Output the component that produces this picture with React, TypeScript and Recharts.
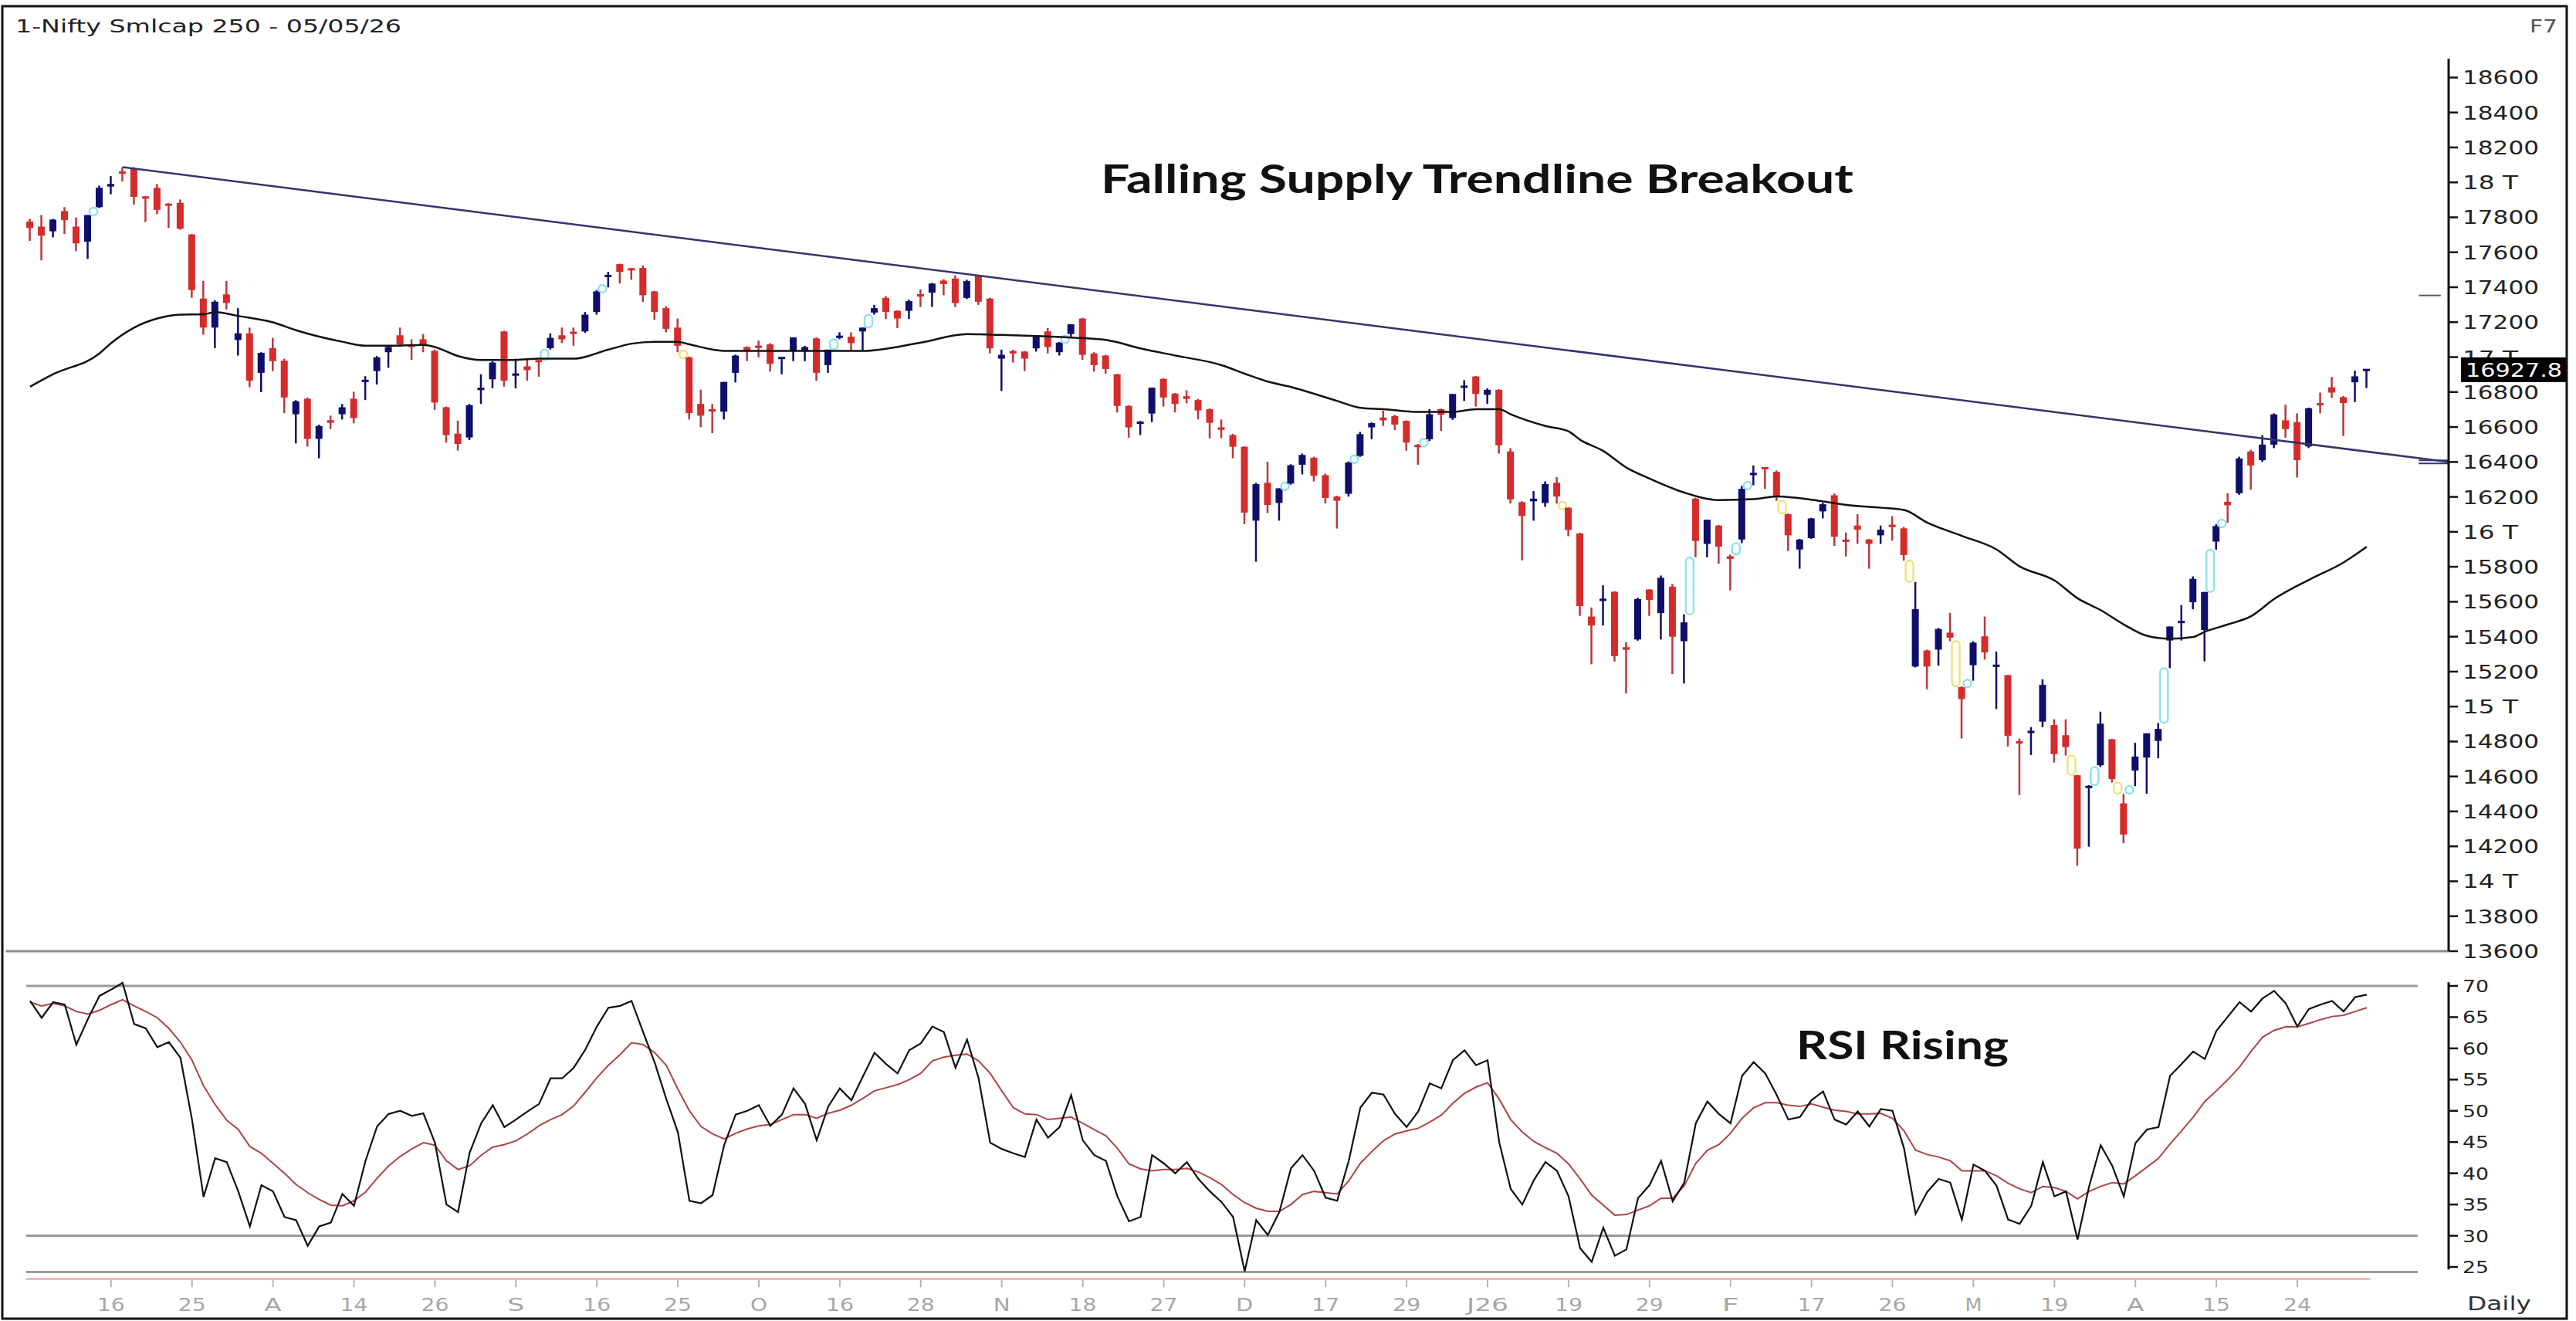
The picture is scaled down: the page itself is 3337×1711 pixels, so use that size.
import React from 'react';
import { ComposedChart, Bar, Line, XAxis, YAxis, ReferenceLine } from 'recharts';

const W = 3337;
const H = 1711;
const X_MIN = -0.33;
const X_MAX = 209.08;
const PLOT_LEFT = 34;
const AXIS_W = 165;
const AXIS_FONT = 'DejaVu Sans, sans-serif';

// daily candles, 07 Jul 2025 .. 05 May 2026 (index = session number)
const opens = [
  17776, 17747, 17720, 17836, 17747, 17661, 17858, 17976, 18061, 18080,
  17917, 17969, 17877, 17883, 17702, 17335, 17169, 17359, 17098, 17136,
  16910, 17051, 16980, 16673, 16762, 16532, 16639, 16673, 16762, 16858,
  16920, 17028, 17125, 17073, 17102, 17036, 16713, 16562, 16540, 16811,
  16873, 17147, 16895, 16947, 16980, 17051, 17125, 17142, 17147, 17258,
  17461, 17532, 17507, 17510, 17376, 17280, 17169, 16999, 16732, 16702,
  16688, 16910, 17058, 17065, 17073, 16991, 17036, 17036, 17107, 16954,
  17113, 17117, 17147, 17255, 17339, 17265, 17265, 17361, 17369, 17438,
  17450, 17339, 17465, 17335, 16991, 17035, 17032, 17050, 17147, 17028,
  17132, 17221, 17021, 17009, 16902, 16721, 16621, 16677, 16875, 16791,
  16776, 16754, 16702, 16598, 16554, 16487, 16064, 16281, 16165, 16276,
  16384, 16424, 16324, 16202, 16218, 16435, 16598, 16654, 16662, 16635,
  16495, 16530, 16702, 16651, 16825, 16889, 16784, 16813, 16460, 16170,
  16175, 16165, 16281, 16138, 15991, 15515, 15607, 15657, 15340, 15384,
  15670, 15535, 15686, 15374, 16190, 15931, 16036, 15860, 15956, 16327,
  16368, 16343, 16101, 15899, 15964, 16117, 16209, 15953, 16036, 15956,
  15980, 16040, 16020, 15229, 15321, 15326, 15423, 15111, 15237, 15402,
  15230, 15180, 14800, 14850, 14914, 14894, 14836, 14607, 14535, 14664,
  14813, 14446, 14634, 14708, 14803, 15378, 15480, 15597, 15438, 15944,
  16172, 16221, 16460, 16410, 16499, 16638, 16628, 16489, 16735, 16827,
  16771, 16856, 16925,
];
const highs = [
  17791, 17813, 17791, 17858, 17799, 17813, 17981, 18036, 18087, 18087,
  17922, 17991, 17880, 17902, 17705, 17436, 17325, 17436, 17280, 17169,
  17028, 17110, 16991, 16754, 16769, 16613, 16665, 16732, 16802, 16891,
  17006, 17065, 17169, 17102, 17132, 17043, 16717, 16636, 16732, 16902,
  16977, 17151, 16991, 16991, 16982, 17136, 17169, 17169, 17258, 17384,
  17488, 17535, 17510, 17525, 17379, 17291, 17221, 17003, 16814, 16732,
  16858, 17014, 17062, 17095, 17080, 16999, 17113, 17065, 17113, 17043,
  17142, 17142, 17169, 17299, 17349, 17268, 17329, 17388, 17425, 17446,
  17468, 17443, 17468, 17339, 17043, 17043, 17035, 17117, 17166, 17087,
  17188, 17225, 17028, 17013, 16905, 16724, 16635, 16825, 16880, 16795,
  16810, 16761, 16707, 16643, 16561, 16490, 16281, 16400, 16249, 16387,
  16448, 16430, 16333, 16206, 16403, 16572, 16626, 16694, 16670, 16638,
  16503, 16702, 16705, 16789, 16868, 16892, 16821, 16816, 16479, 16175,
  16233, 16289, 16313, 16140, 15995, 15567, 15694, 15660, 15369, 15623,
  15672, 15750, 15702, 15528, 16195, 16069, 16040, 15870, 16263, 16380,
  16370, 16351, 16105, 15960, 16080, 16166, 16219, 15996, 16101, 15960,
  16036, 16090, 16028, 15713, 15326, 15450, 15536, 15116, 15374, 15515,
  15315, 15182, 14817, 14882, 15156, 14927, 14927, 14609, 14550, 14971,
  14815, 14501, 14793, 14847, 14906, 15458, 15581, 15745, 15656, 16043,
  16221, 16430, 16469, 16553, 16678, 16727, 16678, 16711, 16797, 16886,
  16777, 16922, 16930,
];
const lows = [
  17665, 17554, 17685, 17705, 17606, 17562, 17853, 17932, 18006, 17873,
  17773, 17818, 17739, 17729, 17339, 17128, 17051, 17273, 17009, 16828,
  16799, 16920, 16680, 16506, 16488, 16421, 16588, 16643, 16621, 16754,
  16843, 16939, 17058, 16984, 17028, 16698, 16510, 16465, 16525, 16732,
  16821, 16831, 16821, 16865, 16888, 17043, 17080, 17065, 17139, 17243,
  17399, 17421, 17443, 17317, 17214, 17142, 17028, 16643, 16599, 16565,
  16643, 16855, 16977, 16999, 16917, 16902, 16977, 16977, 16865, 16910,
  17102, 17038, 17035, 17243, 17218, 17166, 17218, 17287, 17287, 17354,
  17287, 17332, 17299, 17021, 16806, 16969, 16920, 17032, 17021, 17009,
  17117, 16984, 16917, 16905, 16683, 16539, 16554, 16628, 16717, 16683,
  16736, 16643, 16535, 16535, 16421, 16043, 15829, 16107, 16064, 16270,
  16329, 16289, 16162, 16019, 16202, 16429, 16530, 16606, 16583, 16464,
  16384, 16519, 16578, 16641, 16749, 16717, 16733, 16448, 16162, 15837,
  16064, 16143, 16162, 15975, 15519, 15242, 15464, 15258, 15075, 15377,
  15519, 15384, 15186, 15132, 15854, 15854, 15818, 15665, 15935, 16267,
  16246, 16177, 15891, 15789, 15960, 16077, 15919, 15859, 15931, 15789,
  15931, 15950, 15835, 15224, 15099, 15234, 15374, 14817, 15148, 15269,
  14986, 14772, 14494, 14723, 14882, 14680, 14720, 14090, 14198, 14654,
  14565, 14218, 14545, 14501, 14704, 15220, 15378, 15557, 15259, 15898,
  16052, 16212, 16241, 16400, 16479, 16539, 16311, 16479, 16678, 16767,
  16549, 16743, 16823,
];
const closes = [
  17739, 17695, 17787, 17784, 17651, 17813, 17969, 17991, 18052, 17917,
  17910, 17843, 17868, 17735, 17384, 17169, 17317, 17310, 17136, 16865,
  17024, 16977, 16769, 16747, 16532, 16606, 16624, 16713, 16651, 16870,
  16999, 17058, 17073, 17058, 17073, 16740, 16554, 16503, 16725, 16825,
  16969, 16865, 16905, 16925, 16974, 17110, 17102, 17136, 17243, 17376,
  17468, 17488, 17498, 17354, 17258, 17162, 17065, 16680, 16665, 16688,
  16858, 17009, 17036, 17054, 16962, 16999, 17113, 17058, 16910, 17043,
  17120, 17080, 17169, 17280, 17258, 17221, 17320, 17346, 17421, 17418,
  17309, 17435, 17317, 17050, 17013, 17021, 16991, 17117, 17058, 17083,
  17188, 17013, 16954, 16932, 16721, 16598, 16628, 16825, 16769, 16732,
  16761, 16695, 16624, 16584, 16487, 16110, 16273, 16154, 16249, 16381,
  16440, 16321, 16194, 16178, 16397, 16559, 16622, 16638, 16614, 16511,
  16487, 16673, 16670, 16789, 16836, 16789, 16813, 16495, 16186, 16091,
  16190, 16273, 16202, 16011, 15575, 15464, 15615, 15289, 15325, 15615,
  15610, 15737, 15400, 15482, 15948, 16069, 15915, 15845, 16246, 16335,
  16360, 16203, 15980, 15956, 16077, 16158, 15972, 15945, 16012, 15931,
  16012, 16028, 15867, 15557, 15229, 15444, 15395, 15043, 15366, 15310,
  15237, 14833, 14790, 14860, 15124, 14728, 14768, 14187, 14545, 14902,
  14585, 14267, 14714, 14847, 14872, 15458, 15488, 15731, 15656, 16033,
  16152, 16420, 16380, 16499, 16672, 16588, 16410, 16707, 16725, 16797,
  16737, 16890, 16927.8,
];

// moving average, read at the sessions where it could be measured
const maIdx = [
  0, 2, 6, 7, 9, 11, 13, 15, 16, 18, 21, 23, 27, 29, 31, 34, 35, 37, 39, 42,
  44, 47, 50, 52, 54, 56, 57, 60, 62, 66, 70, 72, 77, 81, 84, 87, 90, 93, 96, 99,
  103, 105, 107, 109, 113, 115, 117, 120, 123, 125, 127, 128, 131, 133, 134, 136, 138, 140, 143, 146,
  149, 151, 155, 157, 160, 162, 164, 167, 170, 172, 175, 177, 179, 181, 183, 185, 187, 188, 190, 192,
  194, 197, 200, 202,
];
const maVals = [
  16831, 16902, 17021, 17080, 17169, 17221, 17243, 17245, 17258, 17236, 17199, 17154, 17088, 17065, 17065, 17070, 17058, 17006, 16984, 16984,
  16991, 16991, 17043, 17077, 17088, 17088, 17073, 17036, 17036, 17036, 17035, 17035, 17083, 17132, 17127, 17121, 17112, 17098, 17050, 17009,
  16954, 16905, 16860, 16829, 16749, 16710, 16702, 16686, 16686, 16702, 16702, 16673, 16606, 16575, 16527, 16463, 16368, 16305, 16225, 16182,
  16187, 16203, 16174, 16154, 16138, 16125, 16053, 15977, 15899, 15802, 15722, 15620, 15552, 15470, 15405, 15388, 15398, 15428, 15470, 15517,
  15616, 15725, 15825, 15914,
];

// falling supply trendline: from the July top to the price axis
const trendIdx = [8, X_MAX];
const trendVals = [18087, 16400];

// price gaps (session index of the candle after the gap)
const gapUp = [6, 45, 50, 70, 73, 90, 109, 115, 121, 144, 148, 149, 168, 179, 182, 185, 189, 190];
const gapDown = [57, 133, 152, 163, 167, 177, 181];

const rsi = [
  67.6, 64.9, 67.4, 67.0, 60.6, 64.7, 68.4, 69.4, 70.5, 63.9,
  63.2, 60.2, 61.0, 58.5, 48.6, 36.2, 42.4, 41.8, 37.1, 31.5,
  38.1, 37.1, 33.0, 32.5, 28.4, 31.5, 32.1, 36.7, 34.8, 42.0,
  47.5, 49.5, 50.0, 49.2, 49.6, 44.9, 35.0, 33.8, 43.3, 48.0,
  50.9, 47.4, 48.6, 49.9, 51.1, 55.2, 55.2, 56.9, 59.8, 63.5,
  66.5, 66.8, 67.6, 62.6, 57.7, 51.9, 46.6, 35.6, 35.2, 36.5,
  44.5, 49.4, 50.0, 50.9, 47.6, 49.4, 53.6, 51.1, 45.3, 50.7,
  53.6, 51.7, 55.5, 59.3, 57.5, 56.0, 59.7, 60.8, 63.5, 62.6,
  56.9, 61.4, 55.2, 44.9, 43.9, 43.2, 42.6, 48.6, 45.7, 47.4,
  52.5, 45.3, 42.9, 42.0, 36.3, 32.3, 33.0, 42.9, 41.6, 40.0,
  41.8, 39.1, 37.1, 35.4, 33.0, 24.3, 32.5, 30.1, 33.8, 40.8,
  42.9, 40.4, 36.1, 35.6, 42.0, 50.5, 52.9, 52.6, 49.5, 47.4,
  49.9, 54.4, 53.6, 58.1, 59.7, 57.3, 58.1, 45.0, 37.5, 35.0,
  38.9, 41.8, 40.4, 36.3, 28.0, 25.8, 31.3, 26.8, 27.8, 36.0,
  38.1, 42.0, 35.5, 38.5, 48.0, 51.5, 49.5, 48.0, 55.6, 57.8,
  56.0, 52.5, 48.6, 49.0, 51.7, 53.1, 48.6, 47.8, 49.9, 47.5,
  50.3, 50.0, 44.0, 33.5, 37.0, 39.1, 38.5, 32.6, 41.4, 40.4,
  38.0, 32.6, 31.9, 34.8, 41.8, 36.3, 37.1, 29.4, 37.9, 44.5,
  41.2, 36.3, 44.8, 47.0, 47.4, 55.6, 57.5, 59.5, 58.3, 62.8,
  65.1, 67.4, 65.9, 68.0, 69.2, 67.2, 63.5, 66.3, 67.0, 67.6,
  65.9, 68.2, 68.6,
];
const rsiAvg = [
  67.4, 66.8, 67.2, 66.8, 65.9, 65.5, 66.1, 67.0, 67.8, 66.8,
  65.9, 64.9, 63.2, 61.0, 58.1, 54.0, 51.0, 48.5, 47.0, 44.3,
  43.2, 41.6, 40.0, 38.2, 36.9, 35.8, 34.9, 34.8, 35.6, 37.0,
  39.2, 41.2, 42.7, 43.9, 44.9, 44.5, 42.0, 40.6, 41.2, 42.9,
  44.2, 44.6, 45.2, 46.3, 47.6, 48.6, 49.4, 50.8, 53.0, 55.3,
  57.3, 59.0, 60.9, 60.6, 59.3, 57.3, 53.5, 50.0, 47.5, 46.3,
  45.5, 46.4, 47.1, 47.6, 47.8, 48.6, 49.4, 49.4, 48.8, 49.6,
  50.1, 50.9, 52.0, 53.2, 53.7, 54.2, 55.0, 56.0, 58.0, 58.6,
  58.9, 59.1, 58.0, 56.0, 53.2, 50.5, 49.5, 49.4, 48.6, 48.8,
  49.0, 48.0, 47.0, 46.0, 44.0, 41.5, 40.7, 40.4, 40.6, 40.6,
  40.8, 40.2, 39.3, 38.2, 36.6, 35.3, 34.4, 33.9, 33.9, 35.0,
  36.6, 37.1, 36.9, 36.7, 38.8, 41.6, 43.5, 45.2, 46.3, 46.8,
  47.2, 48.2, 49.3, 51.2, 52.8, 53.8, 54.5, 51.9, 48.6, 46.6,
  45.1, 44.1, 43.2, 41.5, 39.1, 36.5, 34.9, 33.3, 33.4, 34.1,
  34.8, 36.0, 36.0, 38.0, 41.6, 43.7, 44.6, 46.4, 48.8, 50.5,
  51.3, 51.3, 50.9, 50.7, 51.1, 50.6, 50.1, 49.9, 49.5, 49.5,
  49.6, 48.8, 46.8, 43.7, 43.0, 42.6, 42.0, 40.4, 40.4, 40.4,
  39.6, 38.4, 37.5, 36.9, 37.9, 37.7, 37.1, 35.9, 37.1, 37.9,
  38.5, 38.3, 39.6, 41.0, 42.4, 44.7, 46.8, 49.0, 51.5, 53.2,
  55.0, 57.0, 59.5, 61.8, 62.9, 63.45, 63.45, 64.0, 64.6, 65.1,
  65.3, 65.9, 66.5,
];

const tickIdx = [7, 14, 21, 28, 35, 42, 49, 56, 63, 70, 77, 84, 91, 98, 105, 112, 119, 126, 133, 140, 147, 154, 161, 168, 175, 182, 189, 196];
const tickLabels = ['16', '25', 'A', '14', '26', 'S', '16', '25', 'O', '16', '28', 'N', '18', '27', 'D', '17', '29', 'J26', '19', '29', 'F', '17', '26', 'M', '19', 'A', '15', '24'];

const priceTicks = [
  13600, 13800, 14000, 14200, 14400, 14600, 14800, 15000, 15200, 15400, 15600, 15800, 16000,
  16200, 16400, 16600, 16800, 17000, 17200, 17400, 17600, 17800, 18000, 18200, 18400, 18600,
];
const rsiTicks = [25, 30, 35, 40, 45, 50, 55, 60, 65, 70];
const lastClose = closes[closes.length - 1];

// ---- rows ----
const priceRows: any[] = opens.map((o, i) => ({
  x: i, kind: 'c', open: o, high: highs[i], low: lows[i], close: closes[i], range: [lows[i], highs[i]],
}));
maIdx.forEach((idx, k) => { priceRows[idx].ma = maVals[k]; });
priceRows[trendIdx[0]].trend = trendVals[0];
gapUp.forEach((i) => {
  const a = highs[i - 1], b = lows[i];
  priceRows.push({ x: i - 0.5, kind: 'u', range: [Math.min(a, b), Math.max(a, b)] });
});
gapDown.forEach((i) => {
  const a = lows[i - 1], b = highs[i];
  priceRows.push({ x: i - 0.5, kind: 'd', range: [Math.min(a, b), Math.max(a, b)] });
});
priceRows.push({ x: trendIdx[1], trend: trendVals[1] });
priceRows.sort((a, b) => a.x - b.x);

const rsiRows = rsi.map((v, i) => ({ x: i, rsi: v, avg: rsiAvg[i] }));

const CandleShape = (props: any) => {
  const { x, y, width, height, payload } = props;
  if (!payload || !payload.kind || !isFinite(y) || !isFinite(height)) return <g />;
  const top = Math.min(y, y + height);
  const span = Math.abs(height);
  const cx = x + width / 2;
  if (payload.kind !== 'c') {
    const col = payload.kind === 'u' ? '#8fe3ea' : '#efe27c';
    const h = Math.max(span, 10);
    return (
      <rect x={cx - 5} y={top + span / 2 - h / 2} width={10} height={h} rx={5}
        fill="none" stroke={col} strokeWidth={2.5} />
    );
  }
  const k = span / (payload.high - payload.low);
  const yo = top + (payload.high - payload.open) * k;
  const yc = top + (payload.high - payload.close) * k;
  const up = payload.close >= payload.open;
  const col = up ? '#0e0e6c' : '#d42b2b';
  const bh = Math.max(Math.abs(yc - yo), 3);
  const bt = (yo + yc) / 2 - bh / 2;
  return (
    <g>
      <line x1={cx} x2={cx} y1={top} y2={top + span} stroke={up ? '#0e0e6c' : '#b83838'} strokeWidth={2.5} />
      <rect x={cx - 4.5} y={bt} width={9} height={bh} fill={col} />
    </g>
  );
};

const PriceTick = (props: any) => {
  const { x, y, payload } = props;
  const v = payload.value;
  if (v === lastClose) {
    return (
      <g>
        <rect x={x + 16} y={y - 16} width={137} height={32} fill="#000" />
        <text x={x + 22} y={y + 9} fill="#fff" fontSize={25} fontFamily={AXIS_FONT}
          textLength={125} lengthAdjust="spacingAndGlyphs">{v.toFixed(1)}</text>
      </g>
    );
  }
  const round = v % 1000 === 0;
  const label = round ? `${v / 1000} T` : String(v);
  return (
    <g>
      <line x1={x} x2={x + 12} y1={y} y2={y} stroke="#111" strokeWidth={2.5} />
      <text x={x + 18} y={y + 9} fill="#222" fontSize={25} fontFamily={AXIS_FONT}
        textLength={round ? 72 : 99} lengthAdjust="spacingAndGlyphs">{label}</text>
    </g>
  );
};

const RsiTick = (props: any) => {
  const { x, y, payload } = props;
  return (
    <g>
      <line x1={x} x2={x + 12} y1={y} y2={y} stroke="#111" strokeWidth={2.5} />
      <text x={x + 18} y={y + 8} fill="#222" fontSize={22} fontFamily={AXIS_FONT}
        textLength={34} lengthAdjust="spacingAndGlyphs">{payload.value}</text>
    </g>
  );
};

const DateTick = (props: any) => {
  const { x, y, payload } = props;
  const k = tickIdx.indexOf(payload.value);
  const label = k >= 0 ? tickLabels[k] : '';
  const tl = label.length === 1 ? 22 : label.length * 18;
  return (
    <text x={x} y={y + 31} textAnchor="middle" fill="#a6a6a6" fontSize={23} fontFamily={AXIS_FONT}
      textLength={tl} lengthAdjust="spacingAndGlyphs">{label}</text>
  );
};

export default function App() {
  return (
    <div style={{ position: 'absolute', left: 0, top: 0, width: W, height: H, background: '#fff', overflow: 'hidden' }}>
      <div style={{ position: 'absolute', left: 0, top: 0 }}>
        <ComposedChart width={W} height={1262} data={priceRows}
          margin={{ top: 76, right: 0, bottom: 30, left: PLOT_LEFT }}>
          <XAxis dataKey="x" type="number" domain={[X_MIN, X_MAX]} allowDataOverflow hide />
          <YAxis orientation="right" type="number" domain={[13600, 18708]} allowDataOverflow
            ticks={[...priceTicks, lastClose]} interval={0} width={AXIS_W}
            tick={(p: any) => <PriceTick {...p} />} tickLine={false} tickSize={0} tickMargin={0}
            axisLine={{ stroke: '#111', strokeWidth: 3 }} />
          <ReferenceLine segment={[{ x: -2.1, y: 13600 }, { x: X_MAX, y: 13600 }]} ifOverflow="visible"
            stroke="#8c8c8c" strokeWidth={3} />
          <Line dataKey="ma" type="monotone" connectNulls dot={false} stroke="#111" strokeWidth={2.5}
            isAnimationActive={false} />
          <Line dataKey="trend" type="linear" connectNulls dot={false} stroke="#34346c" strokeWidth={2.5}
            isAnimationActive={false} />
          <Bar dataKey="range" barSize={9} isAnimationActive={false}
            shape={(p: any) => <CandleShape {...p} />} />
          <ReferenceLine segment={[{ x: 206.5, y: 17353 }, { x: 208.4, y: 17353 }]} stroke="#55557a" strokeWidth={2} />
          <ReferenceLine segment={[{ x: 206.5, y: 16409 }, { x: X_MAX, y: 16409 }]} stroke="#34346c" strokeWidth={2} />
          <ReferenceLine segment={[{ x: 206.5, y: 16391 }, { x: X_MAX, y: 16391 }]} stroke="#34346c" strokeWidth={2} />
        </ComposedChart>
      </div>

      <div style={{ position: 'absolute', left: 0, top: 1232 }}>
        <ComposedChart width={W} height={479} data={rsiRows}
          margin={{ top: 28.8, right: 0, bottom: 0, left: PLOT_LEFT }}>
          <XAxis dataKey="x" type="number" domain={[X_MIN, X_MAX]} allowDataOverflow
            ticks={tickIdx} interval={0} height={53.8} axisLine={false}
            tickLine={{ stroke: '#b5b5b5', strokeWidth: 2 }} tickSize={10} tickMargin={0}
            tick={(p: any) => <DateTick {...p} />} />
          <YAxis orientation="right" type="number" domain={[23, 72]} allowDataOverflow
            ticks={rsiTicks} interval={0} width={AXIS_W} tick={(p: any) => <RsiTick {...p} />}
            tickLine={false} tickSize={0} tickMargin={0} axisLine={false} />
          <ReferenceLine segment={[{ x: X_MIN, y: 70 }, { x: 206.4, y: 70 }]} stroke="#9a9a9a" strokeWidth={3} />
          <ReferenceLine segment={[{ x: X_MIN, y: 30 }, { x: 206.4, y: 30 }]} stroke="#9a9a9a" strokeWidth={3} />
          <ReferenceLine segment={[{ x: X_MIN, y: 24.2 }, { x: 206.4, y: 24.2 }]} stroke="#9a9a9a" strokeWidth={3} />
          <ReferenceLine segment={[{ x: X_MIN, y: 23.1 }, { x: 202.3, y: 23.1 }]} stroke="#f2bcbc" strokeWidth={3} />
          <ReferenceLine segment={[{ x: X_MAX, y: 24.6 }, { x: X_MAX, y: 70.6 }]} stroke="#111" strokeWidth={3} />
          <Line dataKey="avg" type="linear" dot={false} stroke="#b04444" strokeWidth={2} isAnimationActive={false} />
          <Line dataKey="rsi" type="linear" dot={false} stroke="#111" strokeWidth={2.2} isAnimationActive={false} />
        </ComposedChart>
      </div>

      <svg style={{ position: 'absolute', left: 0, top: 0, pointerEvents: 'none' }} width={W} height={H}>
        <rect x={3} y={8} width={3322} height={1700} fill="none" stroke="#111" strokeWidth={3} />
        <text x={20} y={41.5} fill="#222" fontSize={23} fontFamily={AXIS_FONT}
          textLength={500} lengthAdjust="spacingAndGlyphs">1-Nifty Smlcap 250 - 05/05/26</text>
        <text x={3277} y={41.5} fill="#555" fontSize={23} fontFamily={AXIS_FONT}
          textLength={36} lengthAdjust="spacingAndGlyphs">F7</text>
        <text x={1426} y={250} fill="#111" fontSize={51} fontWeight={700} fontFamily="Lato, 'Open Sans', sans-serif"
          textLength={975} lengthAdjust="spacingAndGlyphs">Falling Supply Trendline Breakout</text>
        <text x={2327} y={1372} fill="#111" fontSize={51} fontWeight={700} fontFamily="Lato, 'Open Sans', sans-serif"
          textLength={275} lengthAdjust="spacingAndGlyphs">RSI Rising</text>
        <text x={3196} y={1697} fill="#333" fontSize={25} fontFamily={AXIS_FONT}
          textLength={83} lengthAdjust="spacingAndGlyphs">Daily</text>
      </svg>
    </div>
  );
}
